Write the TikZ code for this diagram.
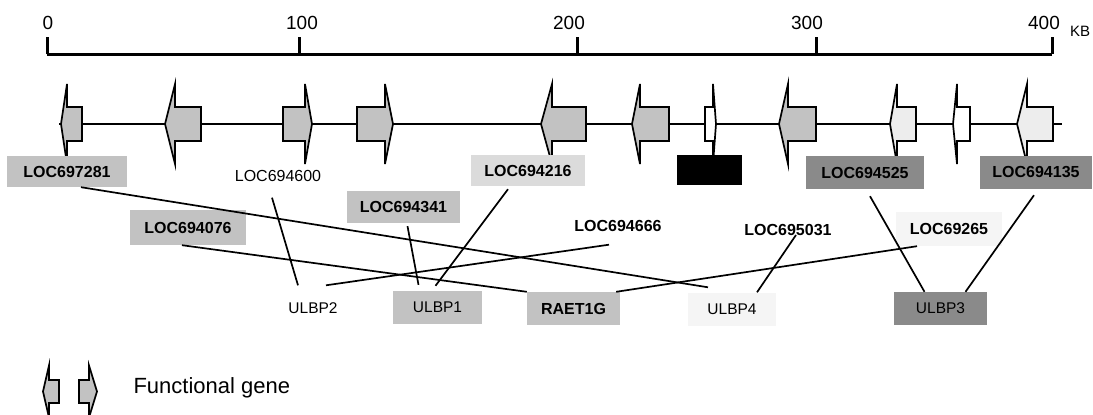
\documentclass[tikz,border=0pt]{standalone}
\usepackage{fontspec}
\setmainfont{Liberation Sans}
\usetikzlibrary{calc}

\definecolor{genegray}{gray}{0.76}
\definecolor{genelight}{gray}{0.93}
\definecolor{boxmid}{gray}{0.76}
\definecolor{boxlight}{gray}{0.86}
\definecolor{boxdark}{gray}{0.54}
\definecolor{boxfaint}{gray}{0.96}

\newcommand{\genebh}{17}
\newcommand{\genesh}{40}
% fill, tip, head base, tail, y
\newcommand{\genearrow}[5]{%
  \draw[line width=1.7pt, fill=#1] (#2,#5) -- (#3,#5-\genesh) -- (#3,#5-\genebh) -- (#4,#5-\genebh)
    -- (#4,#5+\genebh) -- (#3,#5+\genebh) -- (#3,#5+\genesh) -- cycle;}

\begin{document}
\begin{tikzpicture}[x=1pt, y=-1pt,
  lab/.style={font=\fontsize{16}{18}\selectfont\bfseries, inner sep=0pt, minimum height=31},
  plain/.style={font=\fontsize{15.5}{17}\selectfont, inner sep=0pt, minimum height=33},
  conn/.style={line width=1.7pt}]
  \useasboundingbox (0,0) rectangle (1093,415);

  % scale bar
  \draw[line width=3pt] (47,54) -- (1052,54);
  \foreach \x/\lx/\t in {47/48/0, 299/302/100, 577/569/200, 816/807/300, 1052/1044/400} {
    \draw[line width=3pt] (\x,54) -- (\x,37);
    \node (tick\t) [font=\fontsize{19}{21}\selectfont] at (\lx,23) {\t};
  }
  \node (kb) [font=\fontsize{15}{17}\selectfont] at (1080,31) {KB};

  % gene track
  \draw[line width=1.4pt] (59,124) -- (1062,124);
  \genearrow{genegray}{61}{67}{82}{124}
  \genearrow{genegray}{165}{175}{201}{124}
  \genearrow{genegray}{312}{305}{283}{124}
  \genearrow{genegray}{393}{385}{357}{124}
  \genearrow{genegray}{541}{552}{586}{124}
  \genearrow{genegray}{632}{640}{669}{124}
  \genearrow{white}{716}{713}{705}{124}
  \genearrow{genegray}{779}{788}{816}{124}
  \genearrow{genelight}{890}{897}{916}{124}
  \genearrow{white}{953}{957}{970}{124}
  \genearrow{genelight}{1017}{1027}{1053}{124}

  % loci
  \node (loc697281) [lab, fill=boxmid, minimum width=120] at (67,171.5) {LOC697281};
  \node (loc694600) [lab, font=\fontsize{16}{18}\selectfont] at (278,176) {LOC694600};
  \node (loc694216) [lab, fill=boxlight, minimum width=114] at (528,170.5) {LOC694216};
  \node (blackbox) [fill=black, minimum width=65, minimum height=30] at (709.5,170) {};
  \node (loc694525) [lab, fill=boxdark, minimum width=118, minimum height=33] at (865,172.5) {LOC694525};
  \node (loc694135) [lab, fill=boxdark, minimum width=112, minimum height=33] at (1036,172.5) {LOC694135};
  \node (loc694341) [lab, fill=boxmid, minimum width=113, minimum height=32] at (403.5,207) {LOC694341};
  \node (loc694076) [lab, fill=boxmid, minimum width=116, minimum height=35] at (188,227.5) {LOC694076};
  \node (loc694666) [lab] at (618,226) {LOC694666};
  \node (loc695031) [lab] at (788,230) {LOC695031};
  \node (loc69265) [lab, fill=boxfaint, minimum width=106, minimum height=34] at (949,229) {LOC69265};

  \node (ulbp2) [plain] at (313,308) {ULBP2};
  \node (ulbp1) [plain, fill=boxmid, minimum width=89] at (437.5,307.5) {ULBP1};
  \node (raet1g) [plain, font=\fontsize{16}{18}\selectfont\bfseries, fill=boxmid, minimum width=93] at (573.5,308.5) {RAET1G};
  \node (ulbp4) [plain, fill=boxfaint, minimum width=88] at (732,309) {ULBP4};
  \node (ulbp3) [plain, fill=boxdark, minimum width=93] at (940.5,308.5) {ULBP3};

  \draw[conn] ([xshift=14pt]loc697281.south) -- ([xshift=-24pt, yshift=5pt]ulbp4.north);
  \draw[conn] ([xshift=-6pt, yshift=-6pt]loc694600.south) -- ([xshift=-15pt, yshift=6pt]ulbp2.north);
  \draw[conn] ([xshift=4pt, yshift=-3pt]loc694341.south) -- ([xshift=-19pt, yshift=6pt]ulbp1.north);
  \draw[conn] ([xshift=-20pt, yshift=-3pt]loc694216.south) -- ([xshift=-2pt, yshift=5pt]ulbp1.north);
  \draw[conn] ([xshift=-6pt]loc694076.south) -- (raet1g.north west);
  \draw[conn] ([xshift=-9pt, yshift=-3pt]loc694666.south) -- ([xshift=13pt, yshift=6pt]ulbp2.north);
  \draw[conn] ([xshift=8pt, yshift=-5pt]loc695031.center) -- ([xshift=25pt]ulbp4.north);
  \draw[conn] ([xshift=-32pt]loc69265.south) -- ([xshift=-4pt]raet1g.north east);
  \draw[conn] ([xshift=5pt, yshift=-7pt]loc694525.south) -- ([xshift=-16pt]ulbp3.north);
  \draw[conn] ([xshift=-2pt, yshift=-6pt]loc694135.south) -- ([xshift=25pt]ulbp3.north);

  % legend
  \renewcommand{\genebh}{11.5}
  \renewcommand{\genesh}{26}
  \genearrow{genegray}{43}{49}{59}{391.5}
  \genearrow{genegray}{97}{89}{79}{391.5}
  \node (legend) [font=\fontsize{22}{24}\selectfont, anchor=west] at (130,388) {Functional gene};
\end{tikzpicture}
\end{document}
